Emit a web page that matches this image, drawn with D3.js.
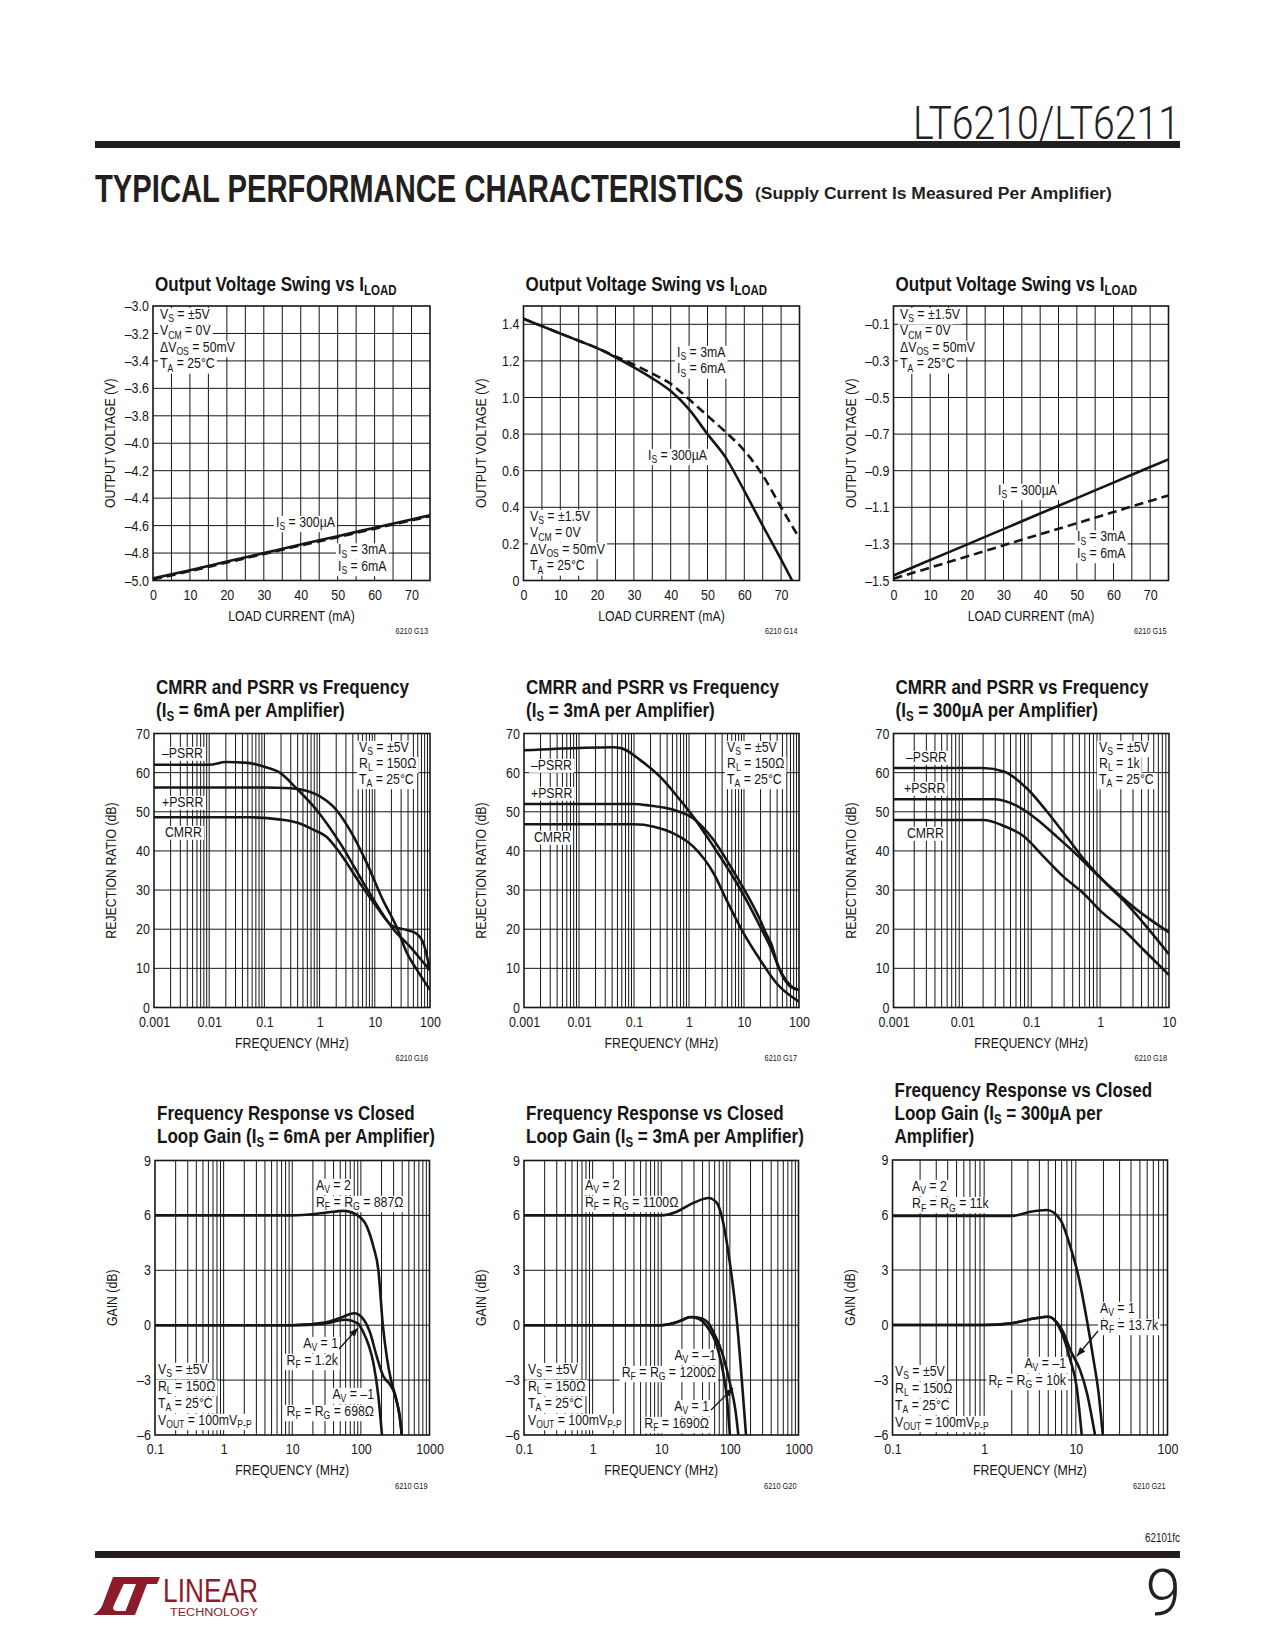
<!DOCTYPE html>
<html><head><meta charset="utf-8">
<script src="https://cdn.jsdelivr.net/npm/d3@7"></script>
<style>body{margin:0;background:#fff}svg{display:block}</style>
</head><body>
<script>
// ================= DATA =================
const loadTicks = [0,10,20,30,40,50,60,70];
// G13  Output swing (VS=±5V, negative)
const g13Load = [0,10,20,30,40,50,60,70,75];
const g13Is300uA = [-4.985,-4.925,-4.862,-4.800,-4.738,-4.677,-4.615,-4.555,-4.525];
const g13Is3mA6mA = [-4.992,-4.932,-4.869,-4.807,-4.745,-4.684,-4.622,-4.562,-4.532];
const g13YTicks = [-5.0,-4.8,-4.6,-4.4,-4.2,-4.0,-3.8,-3.6,-3.4,-3.2,-3.0];
// G14  Output swing (VS=±1.5V, positive)
const g14Load300uA = [0,5,10,15,20,25,30,35,40,45,50,55,60,65,70,73];
const g14Is300uA = [1.43,1.39,1.35,1.31,1.27,1.22,1.165,1.105,1.035,0.935,0.80,0.67,0.49,0.30,0.115,0];
const g14Load3mA = [0,5,10,15,20,25,30,35,40,45,50,55,60,65,70,75];
const g14Is3mA6mA = [1.43,1.39,1.35,1.31,1.27,1.225,1.18,1.13,1.075,0.99,0.90,0.81,0.71,0.575,0.40,0.23];
const g14YTicks = [0,0.2,0.4,0.6,0.8,1.0,1.2,1.4];
// G15  Output swing (VS=±1.5V, negative)
const g15Load = [0,10,20,30,40,50,60,70,75];
const g15Is300uA = [-1.473,-1.388,-1.304,-1.219,-1.134,-1.050,-0.965,-0.880,-0.838];
const g15Is3mA6mA = [-1.490,-1.430,-1.369,-1.308,-1.247,-1.187,-1.126,-1.065,-1.035];
const g15YTicks = [-1.5,-1.3,-1.1,-0.9,-0.7,-0.5,-0.3,-0.1];
// G16  CMRR/PSRR, IS=6mA
const rrYTicks = [0,10,20,30,40,50,60,70];
const g16XTicks = [0.001,0.01,0.1,1,10,100];
const g16NegPsrrF = [0.001,0.01,0.02,0.05,0.1,0.19,0.38,0.89,2.35,7.1,21.6,43,69,100];
const g16NegPsrr  = [62,62,62.7,62.5,61.5,60,56,50.4,42,30.5,20,15.6,12.2,9.5];
const g16PosPsrrF = [0.001,0.1,0.3,0.6,1,1.78,3.55,7.1,14,25,38,58,100];
const g16PosPsrr  = [56.2,56.2,56,55.3,54,51.3,45.3,37,27.5,20.5,14,9.6,4.5];
const g16CmrrF = [0.001,0.05,0.2,0.44,0.8,1.33,2.35,5.4,10.7,21.6,38,58,76,100];
const g16Cmrr  = [48.6,48.6,48,47,45.3,43.6,39.4,31.7,25.8,20.7,19.8,18.8,16.4,9.6];
// G17  CMRR/PSRR, IS=3mA
const g17XTicks = [0.001,0.01,0.1,1,10,100];
const g17NegPsrrF = [0.001,0.01,0.04,0.06,0.13,0.3,0.69,1.2,2.8,6.3,11,19.6,32,45,79,100];
const g17NegPsrr  = [65.7,66.3,66.5,66.2,63.2,58.9,53,48.7,41.1,33.4,27.5,20.7,14.7,9.6,5,4.5];
const g17PosPsrrF = [0.001,0.1,0.19,0.52,1.2,2.8,6.3,11,19.6,25,31,42,69,100];
const g17PosPsrr  = [52,52,51.6,50.5,48.3,42.8,35,29.2,22.4,19,16.4,10.5,5.4,4.5];
const g17CmrrF = [0.001,0.1,0.23,0.52,1.2,2.8,4.8,9.8,19.6,39,100];
const g17Cmrr  = [46.8,46.8,46.2,44.5,41.1,34.3,27.5,19,12.2,6.2,1.5];
// G18  CMRR/PSRR, IS=300uA
const g18XTicks = [0.001,0.01,0.1,1,10];
const g18NegPsrrF = [0.001,0.02,0.04,0.086,0.17,0.33,0.64,1.25,2.2,4.3,10];
const g18NegPsrr  = [61.2,61.2,60.3,56,50,43.5,37,31.5,27.3,21.5,13.6];
const g18PosPsrrF = [0.001,0.03,0.062,0.12,0.23,0.46,0.89,1.75,3.4,10];
const g18PosPsrr  = [53.2,53.2,51.5,48.1,43.8,39,34,29.3,25,19.2];
const g18CmrrF = [0.001,0.02,0.04,0.077,0.15,0.29,0.57,1.1,2.2,4.3,10];
const g18Cmrr  = [47.9,47.9,46.4,43.8,38.6,33.5,29.2,24.1,19.8,14.7,8.3];
// G19  Freq response, IS=6mA
const gainYTicks = [-6,-3,0,3,6,9];
const g19XTicks = [0.1,1,10,100,1000];
const g19Av2F = [0.1,10,28.5,56,87,122,152,180,209,240,275,320,360,395];
const g19Av2  = [6,6,6.13,6.25,6.03,5.4,4.3,3,0,-1.8,-3,-3.9,-4.8,-6];
const g19Av1F = [0.1,10,30,50,80,105,136,170,213,260,300,340,370,395];
const g19Av1  = [0,0,0.15,0.4,0.65,0.4,-0.4,-1.7,-2.8,-3.2,-3.6,-4.3,-5,-6];
const g19AvM1F = [0.1,10,30,60,90,109,130,152,180,203];
const g19AvM1  = [0,0,0.1,0.3,0.1,-0.4,-1.1,-2.05,-3.9,-6];
// G20  Freq response, IS=3mA
const g20XTicks = [0.1,1,10,100,1000];
const g20Av2F = [0.1,10,16.8,29,49,65,80,100,126,149,172];
const g20Av2  = [6,6,6.2,6.67,6.95,6.67,5.6,3.4,0.3,-2.96,-6];
const g20AvM1F = [0.1,10,18,26,35,46,65,80,91,100];
const g20AvM1  = [0,0,0.2,0.45,0.35,-0.05,-1.15,-2.6,-4.05,-6];
const g20Av1F = [0.1,10,18,28,38,50,58,80,100,120,133];
const g20Av1  = [0,0,0.2,0.45,0.38,0.05,-0.4,-1.7,-3.15,-4.6,-6];
// G21  Freq response, IS=300uA
const g21XTicks = [0.1,1,10,100];
const g21Av2F = [0.1,2,3.2,4.8,6.8,8.7,10.7,13.2,15.6,17.7,19.7];
const g21Av2  = [5.95,5.95,6.18,6.27,5.73,4.27,2.64,0.27,-1.9,-3.7,-6];
const g21AvM1F = [0.1,1,2,3.5,5,6.2,7.3,8.7,10.2,11.6];
const g21AvM1  = [0,0,0.1,0.35,0.45,0.1,-0.64,-1.9,-3.36,-6];
const g21Av1F = [0.1,1,2,3.5,5,6.2,7.3,8.7,11.1,13.2,16.2];
const g21Av1  = [0,0,0.1,0.35,0.45,0.15,-0.4,-1.36,-2.45,-3.7,-6];

// ================= RENDER =================
const FN = "'Liberation Sans',Arial,Helvetica,sans-serif";
const SX = 0.82;            // horizontal condensing (Helvetica Condensed look)
const INK = "#161616";
const svg = d3.select("body").append("svg").attr("width",1275).attr("height",1650).attr("font-family",FN);
const defs = svg.append("defs");
defs.append("marker").attr("id","arrow").attr("viewBox","0 0 10 8").attr("refX",10).attr("refY",4)
  .attr("markerWidth",10).attr("markerHeight",7).attr("markerUnits","userSpaceOnUse").attr("orient","auto")
  .append("path").attr("d","M0,0L10,4L0,8Z").attr("fill",INK);

function cond(x,y,k){ return `translate(${x},${y}) scale(${k||SX},1) translate(${-x},${-y})`; }

// one <text> per block; each line starts a new chunk; "_{..}" = subscript
function block(parent, x, lines, o={}) {
  const size=o.size||15, sub=o.sub||10.5, shift=o.shift||3.5;
  const g=parent.append("g").attr("transform",cond(x,0));
  const t=g.append("text").attr("font-size",size).attr("font-weight",o.bold?"bold":null)
    .attr("text-anchor",o.anchor||"start").attr("fill",INK);
  const ranges=[]; let idx=0;
  lines.forEach(([ly,str])=>{
    let first=true, pend=0; const start=idx;
    str.split(/(_\{[^}]*\})/).forEach(p=>{
      if(!p) return;
      const m=p.match(/^_\{(.*)\}$/);
      const txt=m?m[1]:p;
      const ts=t.append("tspan").text(txt);
      if(first){ ts.attr("x",x).attr("y",ly); first=false; }
      if(m){ ts.attr("font-size",sub).attr("dy",shift); pend=-shift; }
      else if(pend){ ts.attr("dy",pend); pend=0; }
      idx+=txt.length;
    });
    ranges.push([start,idx]);
  });
  if(o.bg){
    const n=t.node();
    ranges.forEach(([a,b])=>{
      let x0=Infinity,x1=-Infinity,y0=Infinity,y1=-Infinity;
      for(let i=a;i<b;i++){ const r=n.getExtentOfChar(i); x0=Math.min(x0,r.x); x1=Math.max(x1,r.x+r.width); y0=Math.min(y0,r.y); y1=Math.max(y1,r.y+r.height); }
      g.insert("rect",()=>n).attr("x",x0-2.5).attr("y",y0+2).attr("width",x1-x0+5).attr("height",y1-y0-2.5).attr("fill","#fff");
    });
  }
  return t;
}
function plain(parent,x,y,str,size,anchor){
  return parent.append("text").attr("x",x).attr("y",y).attr("transform",cond(x,y)).attr("font-size",size)
    .attr("text-anchor",anchor||"start").attr("fill",INK).text(str);
}
function fitted(x,y,str,size,width,anchor,attrs){
  const t=svg.append("text").attr("x",x).attr("y",y).attr("font-size",size).attr("text-anchor",anchor||"start").text(str);
  Object.entries(attrs||{}).forEach(([k,v])=>t.attr(k,v));
  const k=width/t.node().getComputedTextLength();
  t.attr("transform",cond(x,y,k));
  return t;
}
const fmtDash1 = d => d.toFixed(1).replace("-","\u2013");
const fmtPos1 = d => d===0 ? "0" : d.toFixed(1);
const fmtPlain = d => String(d).replace("-","\u2013");

function logGrid(dom){
  const out=[]; const e0=Math.round(Math.log10(dom[0])), e1=Math.round(Math.log10(dom[1]));
  for(let e=e0;e<e1;e++) for(let k=1;k<=9;k++){ const v=+(k*Math.pow(10,e)).toPrecision(6); if(v>dom[0]&&v<dom[1]) out.push(v); }
  return out;
}

const charts = [
 {id:"6210 G13", x:153,y:306,w:277,h:274.5, log:false, xDomain:[0,75], xGrid:5, xTicks:loadTicks, xFmt:fmtPlain,
  yDomain:[-5,-3], yTicks:g13YTicks, yFmt:fmtDash1, xTitle:"LOAD CURRENT (mA)", yTitle:"OUTPUT VOLTAGE (V)",
  title:[[291,"Output Voltage Swing vs I_{LOAD}"]],
  series:[{x:g13Load,y:g13Is3mA6mA,dash:true},{x:g13Load,y:g13Is300uA}],
  blocks:[[160,"start",[[319,"V_{S} = ±5V"],[335.5,"V_{CM} = 0V"],[352,"ΔV_{OS} = 50mV"],[368.5,"T_{A} = 25°C"]]],
          [276,"start",[[527,"I_{S} = 300µA"]]],
          [338,"start",[[554.5,"I_{S} = 3mA"],[571,"I_{S} = 6mA"]]]]},
 {id:"6210 G14", x:523.5,y:306,w:276,h:274.5, log:false, xDomain:[0,75], xGrid:5, xTicks:loadTicks, xFmt:fmtPlain,
  yDomain:[0,1.5], yTicks:g14YTicks, yFmt:fmtPos1, xTitle:"LOAD CURRENT (mA)", yTitle:"OUTPUT VOLTAGE (V)",
  title:[[291,"Output Voltage Swing vs I_{LOAD}"]],
  series:[{x:g14Load3mA,y:g14Is3mA6mA,dash:true},{x:g14Load300uA,y:g14Is300uA}],
  blocks:[[677,"start",[[357,"I_{S} = 3mA"],[373.5,"I_{S} = 6mA"]]],
          [648,"start",[[460,"I_{S} = 300µA"]]],
          [530,"start",[[521,"V_{S} = ±1.5V"],[537.5,"V_{CM} = 0V"],[554,"ΔV_{OS} = 50mV"],[570.5,"T_{A} = 25°C"]]]]},
 {id:"6210 G15", x:893.5,y:306,w:275,h:274.5, log:false, xDomain:[0,75], xGrid:5, xTicks:loadTicks, xFmt:fmtPlain,
  yDomain:[-1.5,0], yTicks:g15YTicks, yFmt:fmtDash1, xTitle:"LOAD CURRENT (mA)", yTitle:"OUTPUT VOLTAGE (V)",
  title:[[291,"Output Voltage Swing vs I_{LOAD}"]],
  series:[{x:g15Load,y:g15Is3mA6mA,dash:true},{x:g15Load,y:g15Is300uA}],
  blocks:[[900,"start",[[319,"V_{S} = ±1.5V"],[335.5,"V_{CM} = 0V"],[352,"ΔV_{OS} = 50mV"],[368.5,"T_{A} = 25°C"]]],
          [998,"start",[[495,"I_{S} = 300µA"]]],
          [1077,"start",[[541.5,"I_{S} = 3mA"],[558,"I_{S} = 6mA"]]]]},
 {id:"6210 G16", x:154,y:733.5,w:276,h:274, log:true, xDomain:[0.001,100], xTicks:g16XTicks, xFmt:fmtPlain,
  yDomain:[0,70], yTicks:rrYTicks, yFmt:fmtPlain, xTitle:"FREQUENCY (MHz)", yTitle:"REJECTION RATIO (dB)",
  title:[[694,"CMRR and PSRR vs Frequency"],[717,"(I_{S} = 6mA per Amplifier)"]],
  series:[{x:g16NegPsrrF,y:g16NegPsrr},{x:g16PosPsrrF,y:g16PosPsrr},{x:g16CmrrF,y:g16Cmrr}],
  blocks:[[162,"start",[[758,"\u2013PSRR"]]],[162,"start",[[807,"+PSRR"]]],[165,"start",[[837,"CMRR"]]],
          [359,"start",[[752,"V_{S} = ±5V"],[768,"R_{L} = 150Ω"],[784,"T_{A} = 25°C"]]]]},
 {id:"6210 G17", x:524,y:733.5,w:275,h:274, log:true, xDomain:[0.001,100], xTicks:g17XTicks, xFmt:fmtPlain,
  yDomain:[0,70], yTicks:rrYTicks, yFmt:fmtPlain, xTitle:"FREQUENCY (MHz)", yTitle:"REJECTION RATIO (dB)",
  title:[[694,"CMRR and PSRR vs Frequency"],[717,"(I_{S} = 3mA per Amplifier)"]],
  series:[{x:g17NegPsrrF,y:g17NegPsrr},{x:g17PosPsrrF,y:g17PosPsrr},{x:g17CmrrF,y:g17Cmrr}],
  blocks:[[531,"start",[[770,"\u2013PSRR"]]],[531,"start",[[798,"+PSRR"]]],[534,"start",[[842,"CMRR"]]],
          [727,"start",[[752,"V_{S} = ±5V"],[768,"R_{L} = 150Ω"],[784,"T_{A} = 25°C"]]]]},
 {id:"6210 G18", x:893.5,y:733.5,w:275.5,h:274, log:true, xDomain:[0.001,10], xTicks:g18XTicks, xFmt:fmtPlain,
  yDomain:[0,70], yTicks:rrYTicks, yFmt:fmtPlain, xTitle:"FREQUENCY (MHz)", yTitle:"REJECTION RATIO (dB)",
  title:[[694,"CMRR and PSRR vs Frequency"],[717,"(I_{S} = 300µA per Amplifier)"]],
  series:[{x:g18NegPsrrF,y:g18NegPsrr},{x:g18PosPsrrF,y:g18PosPsrr},{x:g18CmrrF,y:g18Cmrr}],
  blocks:[[906,"start",[[762,"\u2013PSRR"]]],[904,"start",[[793,"+PSRR"]]],[907,"start",[[838,"CMRR"]]],
          [1099,"start",[[752,"V_{S} = ±5V"],[768,"R_{L} = 1k"],[784,"T_{A} = 25°C"]]]]},
 {id:"6210 G19", x:155,y:1160.5,w:274.5,h:274.5, log:true, xDomain:[0.1,1000], xTicks:g19XTicks, xFmt:fmtPlain,
  yDomain:[-6,9], yTicks:gainYTicks, yFmt:fmtPlain, xTitle:"FREQUENCY (MHz)", yTitle:"GAIN (dB)",
  title:[[1120,"Frequency Response vs Closed"],[1143,"Loop Gain (I_{S} = 6mA per Amplifier)"]],
  series:[{x:g19Av2F,y:g19Av2},{x:g19Av1F,y:g19Av1},{x:g19AvM1F,y:g19AvM1}],
  blocks:[[316,"start",[[1190,"A_{V} = 2"],[1207,"R_{F} = R_{G} = 887Ω"]]],
          [338,"end",[[1348,"A_{V} = 1"],[1365,"R_{F} = 1.2k"]]],
          [374,"end",[[1399,"A_{V} = \u20131"],[1416,"R_{F} = R_{G} = 698Ω"]]],
          [158,"start",[[1374,"V_{S} = ±5V"],[1391,"R_{L} = 150Ω"],[1408,"T_{A} = 25°C"],[1425,"V_{OUT} = 100mV_{P-P}"]]]],
  arrows:[[339,1349,358,1328]]},
 {id:"6210 G20", x:524,y:1160.5,w:274.5,h:274.5, log:true, xDomain:[0.1,1000], xTicks:g20XTicks, xFmt:fmtPlain,
  yDomain:[-6,9], yTicks:gainYTicks, yFmt:fmtPlain, xTitle:"FREQUENCY (MHz)", yTitle:"GAIN (dB)",
  title:[[1120,"Frequency Response vs Closed"],[1143,"Loop Gain (I_{S} = 3mA per Amplifier)"]],
  series:[{x:g20Av2F,y:g20Av2},{x:g20Av1F,y:g20Av1},{x:g20AvM1F,y:g20AvM1}],
  blocks:[[585,"start",[[1190,"A_{V} = 2"],[1207,"R_{F} = R_{G} = 1100Ω"]]],
          [716,"end",[[1360,"A_{V} = \u20131"],[1377,"R_{F} = R_{G} = 1200Ω"]]],
          [709,"end",[[1411,"A_{V} = 1"],[1428,"R_{F} = 1690Ω"]]],
          [528,"start",[[1374,"V_{S} = ±5V"],[1391,"R_{L} = 150Ω"],[1408,"T_{A} = 25°C"],[1425,"V_{OUT} = 100mV_{P-P}"]]]],
  arrows:[[711,1410,733,1388]]},
 {id:"6210 G21", x:892.5,y:1160,w:275,h:275, log:true, xDomain:[0.1,100], xTicks:g21XTicks, xFmt:fmtPlain,
  yDomain:[-6,9], yTicks:gainYTicks, yFmt:fmtPlain, xTitle:"FREQUENCY (MHz)", yTitle:"GAIN (dB)",
  title:[[1097,"Frequency Response vs Closed"],[1120,"Loop Gain (I_{S} = 300µA per"],[1143,"Amplifier)"]],
  series:[{x:g21Av2F,y:g21Av2},{x:g21Av1F,y:g21Av1},{x:g21AvM1F,y:g21AvM1}],
  blocks:[[912,"start",[[1191,"A_{V} = 2"],[1208,"R_{F} = R_{G} = 11k"]]],
          [1100,"start",[[1313,"A_{V} = 1"],[1330,"R_{F} = 13.7k"]]],
          [1066,"end",[[1368,"A_{V} = \u20131"],[1385,"R_{F} = R_{G} = 10k"]]],
          [895,"start",[[1376,"V_{S} = ±5V"],[1393,"R_{L} = 150Ω"],[1410,"T_{A} = 25°C"],[1427,"V_{OUT} = 100mV_{P-P}"]]]],
  arrows:[[1098,1331,1077,1356]]}
];

charts.forEach((c,ci)=>{
  const g = svg.append("g");
  const x = (c.log ? d3.scaleLog() : d3.scaleLinear()).domain(c.xDomain).range([c.x, c.x+c.w]);
  const y = d3.scaleLinear().domain(c.yDomain).range([c.y+c.h, c.y]);
  const vg = c.log ? logGrid(c.xDomain) : d3.range(c.xDomain[0]+c.xGrid, c.xDomain[1]-1e-9, c.xGrid);
  g.append("g").selectAll("line").data(vg).join("line")
    .attr("x1",d=>x(d)).attr("x2",d=>x(d)).attr("y1",c.y).attr("y2",c.y+c.h)
    .attr("stroke",INK).attr("stroke-width",1);
  g.append("g").selectAll("line").data(c.yTicks.filter(d=>d>c.yDomain[0]&&d<c.yDomain[1])).join("line")
    .attr("x1",c.x).attr("x2",c.x+c.w).attr("y1",d=>y(d)).attr("y2",d=>y(d))
    .attr("stroke",INK).attr("stroke-width",1);
  const lg = g.append("g");
  c.blocks.forEach(b=>block(lg,b[0],b[2],{anchor:b[1],bg:true}));
  const cid="clip"+ci;
  defs.append("clipPath").attr("id",cid).append("rect").attr("x",c.x).attr("y",c.y).attr("width",c.w).attr("height",c.h);
  const cg = g.append("g").attr("clip-path",`url(#${cid})`);
  c.series.forEach(s=>{
    const line = d3.line().x((d,i)=>x(s.x[i])).y(d=>y(d)).curve(d3.curveMonotoneX);
    cg.append("path").datum(s.y).attr("d",line).attr("fill","none").attr("stroke",INK)
      .attr("stroke-width",2.6).attr("stroke-linejoin","round").attr("stroke-dasharray",s.dash?"9,5":null);
  });
  (c.arrows||[]).forEach(a=>{
    g.append("line").attr("x1",a[0]).attr("y1",a[1]).attr("x2",a[2]).attr("y2",a[3])
      .attr("stroke",INK).attr("stroke-width",1.3).attr("marker-end","url(#arrow)");
  });
  g.append("rect").attr("x",c.x).attr("y",c.y).attr("width",c.w).attr("height",c.h)
    .attr("fill","none").attr("stroke",INK).attr("stroke-width",1.6);
  const ax = g.append("g").attr("transform",`translate(0,${c.y+c.h})`)
    .call(d3.axisBottom(x).tickValues(c.xTicks).tickFormat(c.xFmt).tickSize(0).tickPadding(8.5));
  const ay = g.append("g").attr("transform",`translate(${c.x},0)`)
    .call(d3.axisLeft(y).tickValues(c.yTicks).tickFormat(c.yFmt).tickSize(0).tickPadding(5));
  [ax,ay].forEach(a=>{ a.select(".domain").remove(); a.attr("font-family",FN).attr("font-size",15.2);
    a.selectAll("text").attr("fill",INK).attr("transform",`scale(${SX},1)`); });
  ay.selectAll("text").attr("dy","0.3em");
  g.append("text").attr("transform",`translate(${c.x+c.w/2},${c.y+c.h+40}) scale(${SX},1)`).attr("text-anchor","middle")
    .attr("font-size",15).attr("fill",INK).text(c.xTitle);
  g.append("text").attr("transform",`translate(${c.x-38},${c.y+c.h/2}) rotate(-90) scale(${SX},1)`).attr("text-anchor","middle")
    .attr("font-size",15).attr("fill",INK).text(c.yTitle);
  plain(g,c.x+c.w-2,c.y+c.h+54,c.id,9,"end");
  block(g,c.x+2,c.title,{size:20.8,sub:14,shift:4,bold:true});
});

// ================= PAGE FURNITURE =================
fitted(1180,139,"LT6210/LT6211",46,267,"end",{"font-family":"Roboto,'Liberation Sans',sans-serif","font-weight":300,"fill":"#222"});
svg.append("rect").attr("x",95).attr("y",141).attr("width",1085).attr("height",7).attr("fill","#231f20");
fitted(95,202,"TYPICAL PERFORMANCE CHARACTERISTICS",38,649,"start",{"font-weight":"bold","fill":"#231f20"});
fitted(755,199,"(Supply Current Is Measured Per Amplifier)",17,357,"start",{"font-weight":"bold","fill":"#231f20"});

plain(svg,1180,1542,"62101fc",12,"end");
svg.append("rect").attr("x",95).attr("y",1551).attr("width",1085).attr("height",7).attr("fill","#231f20");
svg.append("text").attr("x",1181).attr("y",1615).attr("text-anchor","end")
  .attr("font-family","Roboto,'Liberation Sans',sans-serif").attr("font-weight",300).attr("font-size",64).attr("fill","#222").text("9");

// Linear Technology logo (word mark as one text block)
const LC="#8c1b2b";
const logo = svg.append("g").attr("fill",LC);
logo.append("path").attr("d","M113,1577 L127,1577 L114,1605 Q111,1611 118,1611 L132,1611 L130,1615 L93,1615 Q101,1611 104,1601 Z");
logo.append("path").attr("d","M123,1577 L160,1577 L157,1584 L147,1584 L135,1615 L124,1615 L136,1584 L120,1584 Z");
const lt = logo.append("text").attr("fill",LC);
const t1 = lt.append("tspan").attr("x",163).attr("y",1602).attr("font-size",34).text("LINEAR");
const t2 = lt.append("tspan").attr("x",170).attr("y",1616).attr("font-size",10).text("TECHNOLOGY");
t1.attr("textLength",95).attr("lengthAdjust","spacingAndGlyphs");
t2.attr("textLength",88).attr("lengthAdjust","spacingAndGlyphs");
</script>
</body></html>
